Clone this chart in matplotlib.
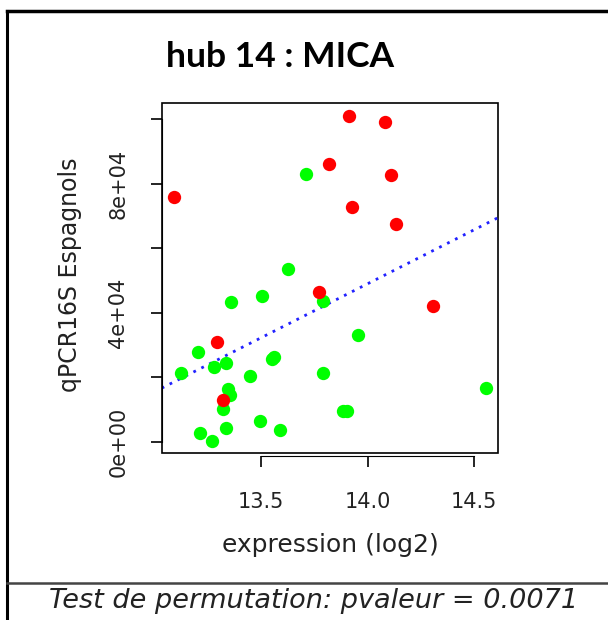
import numpy as np
import matplotlib
matplotlib.use("Agg")
import matplotlib.pyplot as plt
from matplotlib.lines import Line2D
from matplotlib.patches import Rectangle

# data
red_x = [13.914, 14.081, 13.819, 14.109, 13.094, 13.927, 14.133, 13.773, 14.308, 13.295, 13.322]
red_y = [101000, 99300, 86000, 82600, 76000, 72700, 67400, 46500, 42100, 30900, 12900]

green_x = [13.712, 13.628, 13.502, 13.358, 13.789, 13.956, 13.206, 13.549, 13.561,
           13.336, 13.280, 13.125, 13.448, 13.789, 14.553, 13.347, 13.355, 13.323,
           13.886, 13.905, 13.495, 13.336, 13.589, 13.214, 13.269]
green_y = [83000, 53500, 45300, 43400, 43700, 33000, 27800, 25800, 26400,
           24300, 23300, 21200, 20500, 21400, 16800, 16500, 14500, 10300,
           9600, 9600, 6500, 4100, 3600, 2600, 200]

x_ticks = [13.5, 14.0, 14.5]
x_tick_labels = ["13.5", "14.0", "14.5"]
y_ticks = [0, 20000, 40000, 60000, 80000, 100000]
y_tick_labels = ["0e+00", "", "4e+04", "", "8e+04", ""]

title = "hub 14 : MICA"
xlabel = "expression (log2)"
ylabel = "qPCR16S Espagnols"
footer = "Test de permutation: pvaleur = 0.0071"

W, H = 608, 620
fig = plt.figure(figsize=(W / 100, H / 100), dpi=100)

ax = fig.add_axes([161.7 / W, 1 - 453 / H, (498 - 161.7) / W, (453 - 103) / H])
ax.set_xlim(13.034, 14.611)
ax.set_ylim(-3500, 105050)

ax.scatter(green_x, green_y, s=92, color="#00ff00", linewidths=0, zorder=3)
ax.scatter(red_x, red_y, s=92, color="#ff0000", linewidths=0, zorder=4)

# regression line over all points
all_x = np.array(red_x + green_x)
all_y = np.array(red_y + green_y)
slope, intercept = np.polyfit(all_x, all_y, 1)
xl = np.array(ax.get_xlim())
ax.plot(xl, intercept + slope * xl, color="#2222ff", lw=2, ls=(0, (1, 2.2)), zorder=2)

# R style axes
for sp in ax.spines.values():
    sp.set_visible(False)
ax.add_patch(Rectangle((0, 0), 1, 1, transform=ax.transAxes, fill=False,
                       lw=1.2, edgecolor="black", clip_on=False))
ax.spines["left"].set_visible(True)
ax.spines["bottom"].set_visible(True)
ax.spines["left"].set_position(("outward", 0))
ax.spines["bottom"].set_position(("outward", 2))
ax.spines["left"].set_bounds(0, 100000)
ax.spines["bottom"].set_bounds(13.5, 14.5)

ax.set_xticks(x_ticks)
ax.set_xticklabels(x_tick_labels, fontsize=15, family="DejaVu Sans", color="#222222")
ax.set_yticks(y_ticks)
ax.set_yticklabels(y_tick_labels, fontsize=15, family="DejaVu Sans", rotation=90,
                   va="center", color="#222222")
ax.tick_params(axis="both", direction="out", length=8, width=1.2)
ax.tick_params(axis="x", pad=18)
ax.tick_params(axis="y", pad=16)

fig.text(330 / W, 1 - 545 / H, xlabel, ha="center", va="center", fontsize=18,
         color="#222222")
fig.text(70 / W, 1 - 275 / H, ylabel, ha="center", va="center", fontsize=17,
         rotation=90, color="#222222")

fig.text(280 / W, 1 - 57 / H, title, ha="center", va="center", fontsize=25.5,
         fontweight="bold", family="Lato")

fig.text(314 / W, 1 - 601 / H, footer, ha="center", va="center", fontsize=19.5,
         style="italic", color="#222222")

# outer frame pieces
fig.add_artist(Line2D([7 / W, 7 / W], [0, 1 - 11 / H], color="black", lw=2.2))
fig.add_artist(Line2D([7 / W, 1], [1 - 11 / H, 1 - 11 / H], color="black", lw=2.5))
fig.add_artist(Line2D([7 / W, 1], [1 - 583 / H, 1 - 583 / H], color="#444444", lw=1.8))

fig.savefig("out.png", dpi=100)
